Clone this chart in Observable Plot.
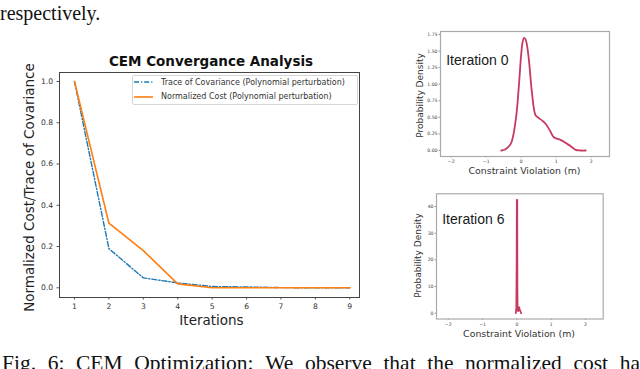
<!DOCTYPE html>
<html><head><meta charset="utf-8">
<script src="https://cdn.jsdelivr.net/npm/d3@7"></script>
<script src="https://cdn.jsdelivr.net/npm/@observablehq/plot@0.6"></script>
<style>
html,body{margin:0;padding:0;background:#fff;width:640px;height:369px;overflow:hidden;}
body{position:relative;}
.abs{position:absolute;white-space:nowrap;}
.serif{font-family:"Liberation Serif","Times New Roman",serif;color:#111;}
#caption{left:2px;width:638px;display:flex;justify-content:space-between;font-size:21.5px;line-height:1;}
#legend{left:132px;top:74.5px;width:224px;height:28.5px;border:1px solid #d6d6d6;border-radius:2px;background:#fff;font-family:"DejaVu Sans",sans-serif;font-size:8px;color:#333;}
.lrow{position:absolute;left:0;height:10px;display:flex;align-items:center;}
.lrow svg{margin-left:1px;margin-right:8px;}
</style></head><body>
<script>
// ---------- data ----------
const iterations = [1, 2, 3, 4, 5, 6, 7, 8, 9];
const traceCovariance = [1.0, 0.19, 0.048, 0.024, 0.006, 0.004, 0.001, 0.0, 0.0];
const normalizedCost = [1.0, 0.313, 0.18, 0.019, 0.0, 0.0, 0.0, 0.0, 0.0];
const seriesNames = ["Trace of Covariance (Polynomial perturbation)", "Normalized Cost (Polynomial perturbation)"];
const seriesColors = ["#1f77b4", "#ff7f0e"];
const mainXTicks = [1, 2, 3, 4, 5, 6, 7, 8, 9];
const mainYTicks = [0.0, 0.2, 0.4, 0.6, 0.8, 1.0];

const iter0X = [-0.57, -0.45, -0.3, -0.16, -0.07, 0, 0.04, 0.08, 0.12, 0.16, 0.22, 0.31, 0.41, 0.5, 0.6, 0.7, 0.82, 0.93, 1.12, 1.31, 1.45, 1.55, 1.7, 1.84];
const iter0Y = [0, 0.02, 0.1, 0.45, 0.96, 1.46, 1.64, 1.70, 1.68, 1.6, 1.36, 0.85, 0.53, 0.49, 0.45, 0.40, 0.3, 0.2, 0.16, 0.10, 0.05, 0.01, 0, 0];
const iter0YTicks = [0, 0.25, 0.5, 0.75, 1.0, 1.25, 1.5, 1.75];

const iter6X = [-0.03, -0.015, -0.005, 0, 0.01, 0.015, 0.02, 0.04, 0.06, 0.09, 0.126];
const iter6Y = [0, 2, 20, 42.5, 42.5, 10, 1.5, 0.8, 2.3, 1.2, 0];
const iter6YTicks = [0, 10, 20, 30, 40];
const densXTicks = [-2, -1, 0, 1, 2];

const headerText = "respectively.";
const captionWords = ["Fig.", "6:", "CEM", "Optimization:", "We", "observe", "that", "the", "normalized", "cost", "ha"];

// ---------- page text ----------
function addDiv(cls, id, html, style) {
  const d = document.createElement("div");
  d.className = cls; if (id) d.id = id;
  if (html != null) d.innerHTML = html;
  Object.assign(d.style, style || {});
  document.body.appendChild(d);
  return d;
}
addDiv("abs serif", null, headerText, {left: "0px", top: "1px", fontSize: "20px", lineHeight: "24px"});
const cap = addDiv("abs serif", "caption", null, {top: "352.5px"});
captionWords.forEach(w => { const s = document.createElement("span"); s.textContent = w; cap.appendChild(s); });

// ---------- main chart ----------
const mainData = iterations.map((it, i) => ({it, trace: traceCovariance[i], cost: normalizedCost[i]}));
const main = Plot.plot({
  width: 370, height: 340,
  marginLeft: 59, marginRight: 11, marginTop: 72, marginBottom: 43,
  style: {fontFamily: "DejaVu Sans, sans-serif", fontSize: "7.6px", color: "#333", background: "transparent", overflow: "visible"},
  x: {domain: [0.564, 9.282]},
  y: {domain: [-0.047, 1.0436]},
  marks: [
    Plot.axisX(mainXTicks, {tickSize: 2.5, tickPadding: 3.5, label: null, stroke: "#555"}),
    Plot.axisY(mainYTicks, {tickSize: 2.5, tickPadding: 4, label: null, stroke: "#555", tickFormat: d => d.toFixed(1)}),
    Plot.line(mainData, {x: "it", y: "trace", stroke: seriesColors[0], strokeWidth: 1.4, strokeDasharray: "5,2,1.2,2"}),
    Plot.line(mainData, {x: "it", y: "cost", stroke: seriesColors[1], strokeWidth: 1.6}),
    Plot.frame({stroke: "#444", strokeWidth: 1}),
    Plot.text(["CEM Convergance Analysis"], {text: d => d, frameAnchor: "top", textAnchor: "middle", lineAnchor: "middle", dx: 1.5, dy: -10.5, fontSize: 13.5, fontWeight: "bold", fill: "#111"}),
    Plot.text(["Iterations"], {text: d => d, frameAnchor: "bottom", textAnchor: "middle", lineAnchor: "middle", dx: 2, dy: 23.5, fontSize: 13.5, fill: "#222"}),
    Plot.text(["Normalized Cost/Trace of Covariance"], {text: d => d, frameAnchor: "left", textAnchor: "middle", lineAnchor: "middle", dx: -30, dy: 2.5, rotate: -90, fontSize: 13.5, fill: "#222"})
  ]
});
main.style.position = "absolute"; main.style.left = "0px"; main.style.top = "0px";
document.body.appendChild(main);

// legend
const leg = addDiv("abs", "legend", null, {});
seriesNames.forEach((name, i) => {
  const row = document.createElement("div");
  row.className = "lrow";
  row.style.top = (i === 0 ? 1.5 : 16) + "px";
  const dash = i === 0 ? "5,2,1.2,2" : "none";
  row.innerHTML = `<svg width="19" height="4"><line x1="0" y1="2" x2="19" y2="2" stroke="${seriesColors[i]}" stroke-width="${i === 0 ? 1.4 : 1.6}" stroke-dasharray="${dash}"/></svg><span>${name}</span>`;
  leg.appendChild(row);
});

// ---------- density plots ----------
function density(xs, ys, opts) {
  const data = xs.map((x, i) => ({x, y: ys[i]}));
  const p = Plot.plot({
    width: opts.width, height: opts.height,
    marginLeft: opts.ml, marginRight: opts.mr, marginTop: opts.mt, marginBottom: opts.mb,
    style: {fontFamily: "DejaVu Sans, sans-serif", fontSize: "4.6px", color: "#444", background: "transparent", overflow: "visible"},
    x: {domain: opts.xd},
    y: {domain: opts.yd},
    marks: [
      Plot.axisX(densXTicks, {tickSize: 1.5, tickPadding: 2, label: null, stroke: "#999"}),
      Plot.axisY(opts.yTicks, {tickSize: 1.5, tickPadding: 1.5, label: null, stroke: "#999", tickFormat: opts.fmt}),
      Plot.line(data, {x: "x", y: "y", stroke: "#c73a5f", strokeWidth: 1.8, curve: opts.curve}),
      Plot.frame({stroke: "#aaa", strokeWidth: 1.2}),
      Plot.text([opts.title], {text: d => d, frameAnchor: "top-left", textAnchor: "start", lineAnchor: "middle", dx: 5.7, dy: opts.titleDy, fontSize: 14, fontFamily: "Liberation Sans, Arial, sans-serif", fill: "#1a1a1a"}),
      Plot.text(["Constraint Violation (m)"], {text: d => d, frameAnchor: "bottom", textAnchor: "middle", lineAnchor: "middle", dx: opts.xlDx, dy: 14.6, fontSize: 9.4, fill: "#333"}),
      Plot.text(["Probability Density"], {text: d => d, frameAnchor: "left", textAnchor: "middle", lineAnchor: "middle", dx: opts.ylDx, dy: opts.ylDy, rotate: -90, fontSize: 9, fill: "#333"})
    ]
  });
  p.style.position = "absolute"; p.style.left = opts.left + "px"; p.style.top = opts.top + "px";
  document.body.appendChild(p);
}

density(iter0X, iter0Y, {
  left: 400, top: 20, width: 220, height: 165, ml: 40, mr: 11, mt: 11, mb: 29,
  xd: [-2.306, 2.52], yd: [-0.0905, 1.795], yTicks: iter0YTicks, fmt: d => d.toFixed(2),
  curve: "catmull-rom", title: "Iteration 0", titleDy: 29, xlDx: -0.5, ylDx: -20, ylDy: 1.5
});
density(iter6X, iter6Y, {
  left: 400, top: 185, width: 220, height: 160, ml: 36, mr: 17.3, mt: 8.3, mb: 26.5,
  xd: [-2.341, 2.515], yd: [-2.17, 44.77], yTicks: iter6YTicks, fmt: d => String(d),
  curve: "linear", title: "Iteration 6", titleDy: 26, xlDx: -0.8, ylDx: -18, ylDy: -1
});
</script>
</body></html>
